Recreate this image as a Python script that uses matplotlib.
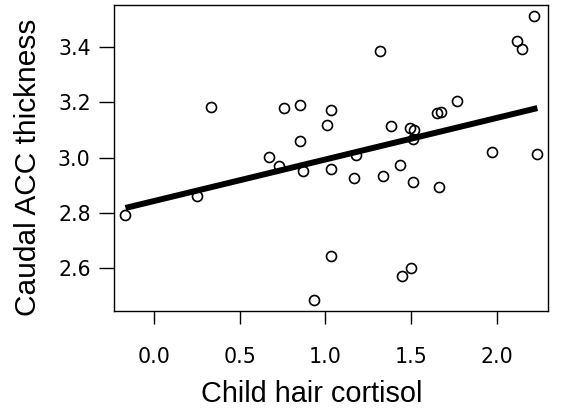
import matplotlib
matplotlib.use("Agg")
import matplotlib.pyplot as plt
import numpy as np

# values
cortisol = [-0.166, 0.254, 0.333, 0.671, 0.730, 0.760, 0.850, 0.850, 0.867,
            0.934, 1.008, 1.033, 1.033, 1.033, 1.167, 1.179, 1.319, 1.339,
            1.384, 1.437, 1.446, 1.492, 1.514, 1.499, 1.519, 1.512, 1.653,
            1.677, 1.665, 1.768, 1.973, 2.120, 2.149, 2.216, 2.237]
thickness = [2.794, 2.861, 3.184, 3.003, 2.971, 3.179, 3.189, 3.062, 2.951,
             2.486, 3.119, 3.172, 2.959, 2.645, 2.928, 3.011, 3.387, 2.932,
             3.115, 2.974, 2.572, 3.107, 2.913, 2.602, 3.102, 3.067, 3.162,
             3.166, 2.894, 3.205, 3.020, 3.424, 3.395, 3.514, 3.015]

# fitted line as drawn in the reference
fit_intercept = 2.843
fit_slope = 0.1505

x_ticks = [0.0, 0.5, 1.0, 1.5, 2.0]
y_ticks = [2.6, 2.8, 3.0, 3.2, 3.4]

fig = plt.figure(figsize=(5.62, 4.15), dpi=100)
ax = fig.add_axes([0.2028, 0.2513, 0.7723, 0.7374])

ax.plot(cortisol, thickness, linestyle='none', marker='o', markersize=7.2,
        markerfacecolor='none', markeredgecolor='black', markeredgewidth=1.2)

xs = np.array([min(cortisol), max(cortisol)])
ax.plot(xs, fit_intercept + fit_slope * xs, color='black', linewidth=4.3,
        solid_capstyle='butt')

ax.set_xlim(-0.233, 2.299)
ax.set_ylim(2.446, 3.554)
ax.set_xticks(x_ticks)
ax.set_xticklabels([f'{v:.1f}' for v in x_ticks])
ax.set_yticks(y_ticks)
ax.set_yticklabels([f'{v:.1f}' for v in y_ticks])

for s in ax.spines.values():
    s.set_linewidth(1.0)

ax.tick_params(axis='x', direction='out', length=9.5, width=1.0, pad=16.5,
               labelsize=14.8)
ax.tick_params(axis='y', direction='out', length=10.8, width=1.0, pad=6,
               labelsize=14.8)

ax.set_xlabel('Child hair cortisol', fontsize=20.8, family='Liberation Sans',
              va='center')
ax.set_ylabel('Caudal ACC thickness', fontsize=21.5, family='Liberation Sans',
              va='center')
# label positions in axes fractions (axes box is 434 x 306 px)
ax.xaxis.set_label_coords((312 - 114) / 434, -(394 - 310.7) / 306)
ax.yaxis.set_label_coords(-(114 - 28) / 434, (310.7 - 167) / 306)

fig.savefig('out.png', dpi=100)
